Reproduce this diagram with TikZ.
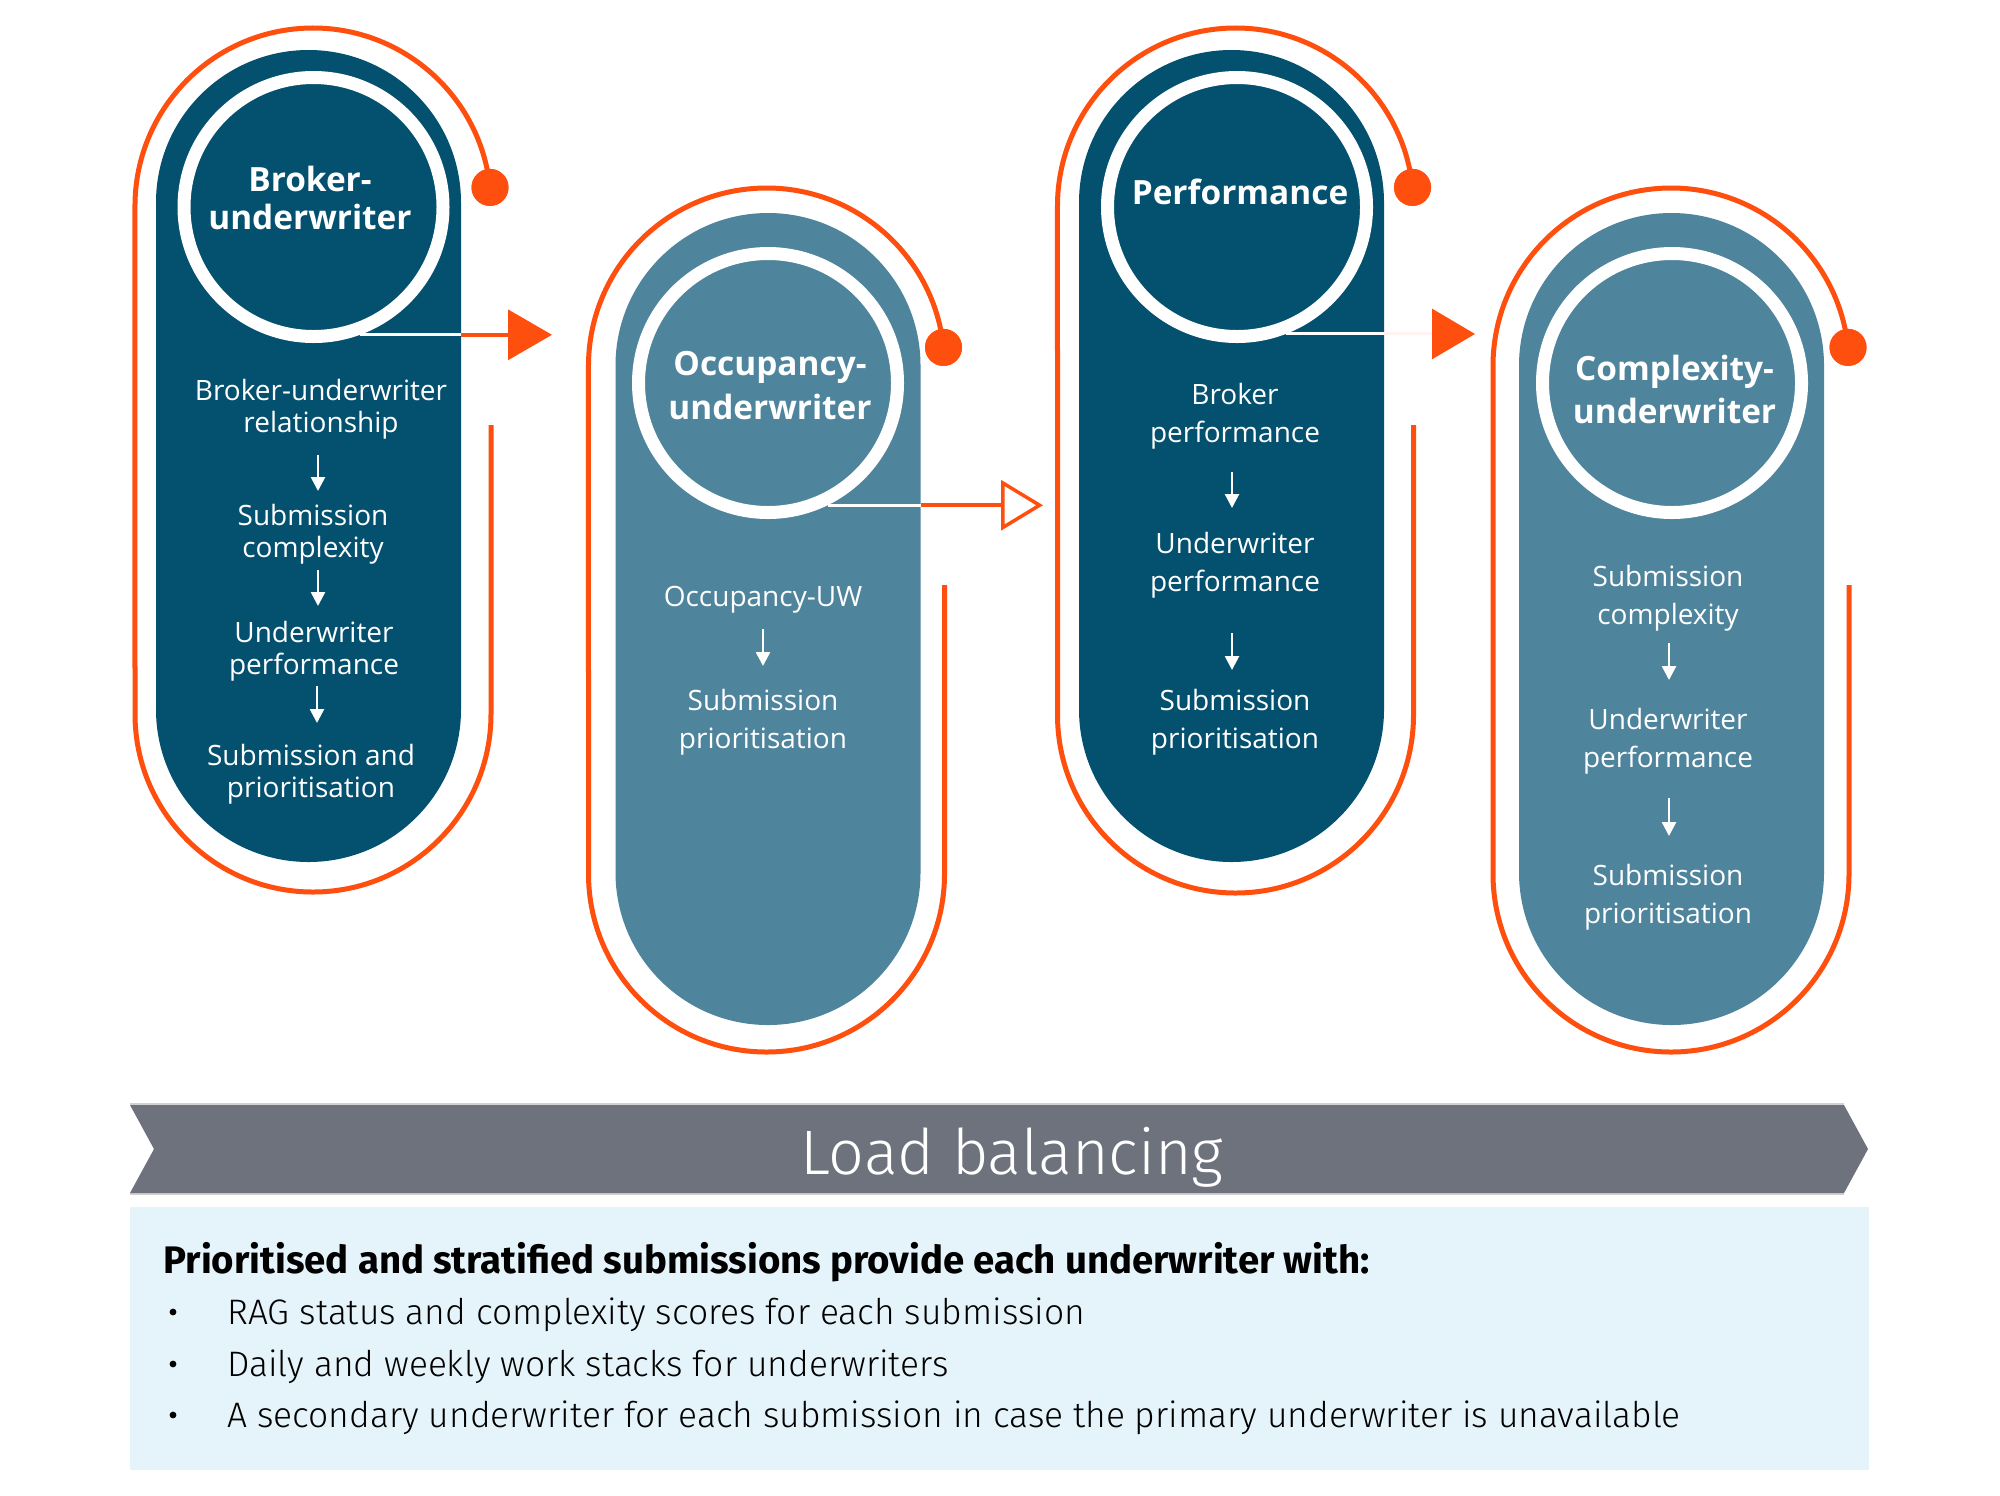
\documentclass[tikz,border=0pt]{standalone}
\usepackage{fontspec}
\setmainfont{Open Sans}
\newfontfamily\firab{Fira Sans}
\newfontfamily\firal{Fira Sans Light}
\usetikzlibrary{arrows.meta,calc}
\definecolor{dkblue}{HTML}{03506F}
\definecolor{ltblue}{HTML}{4E849C}
\definecolor{orng}{HTML}{FF4F0E}
\definecolor{bgray}{HTML}{6E727C}
\definecolor{boxblue}{HTML}{E5F4FA}
\begin{document}
\begin{tikzpicture}[x=0.5pt,y=-0.5pt,
  pillar/.style={rectangle, rounded corners=76.25pt, minimum width=152.5pt, minimum height=406pt, inner sep=0pt, outer sep=0pt},
  ring/.style={circle, draw=white, line width=6.5pt, minimum size=129.5pt, inner sep=0pt},
  ttl/.style={text=white, font=\bfseries\fontsize{16.7}{19}\selectfont, align=center, inner sep=0pt},
  bodyA/.style={text=white, font=\fontsize{14}{16}\selectfont, align=center, inner sep=0pt},
  bodyB/.style={text=white, font=\fontsize{14}{19}\selectfont, align=center, inner sep=0pt},
  oline/.style={draw=orng, line width=2.5pt},
  odot/.style={circle, fill=orng, minimum size=18.5pt, inner sep=0pt},
  wline/.style={draw=white, line width=1.5pt},
  warr/.style={draw=white, line width=1.3pt, -{Triangle[length=7pt,width=7pt]}},
  harr/.style={draw=orng, line width=1.75pt},
  item/.style={anchor=west, inner sep=0pt, font=\firal\fontsize{17.7}{21}\selectfont},
  bul/.style={circle, fill=black, minimum size=3.4pt, inner sep=0pt},
]
\useasboundingbox (0,0) rectangle (2000,1495);
\fill[white] (0,0) rectangle (2000,1495);

% ---------- orange outlines ----------
\node[odot] (d1) at (490,187.4) {};
\draw[oline] (d1.center) arc[start angle=6, end angle=180, radius=89pt] -- (135,714)
  arc[start angle=180, end angle=360, radius=89pt] -- (491,425);
\node[odot] (d2) at (943.5,347.4) {};
\draw[oline] (d2.center) arc[start angle=6, end angle=180, radius=89pt] -- (588.5,874)
  arc[start angle=180, end angle=360, radius=89pt] -- (944.5,585);
\node[odot] (d3) at (1412.5,187.4) {};
\draw[oline] (d3.center) arc[start angle=6, end angle=180, radius=89pt] -- (1057.5,715)
  arc[start angle=180, end angle=360, radius=89pt] -- (1413.5,425);
\node[odot] (d4) at (1848,347.4) {};
\draw[oline] (d4.center) arc[start angle=6, end angle=180, radius=89pt] -- (1493,874)
  arc[start angle=180, end angle=360, radius=89pt] -- (1849,585);
\node[odot] at (d1) {};
\node[odot] at (d2) {};
\node[odot] at (d3) {};
\node[odot] at (d4) {};

% ---------- pillars ----------
\node[pillar, fill=dkblue] (p1) at (308.5,456) {};
\node[pillar, fill=ltblue] (p2) at (768,619) {};
\node[pillar, fill=dkblue] (p3) at (1231.5,456) {};
\node[pillar, fill=ltblue] (p4) at (1671.5,619) {};

% ---------- rings ----------
\node[ring, fill=dkblue] (c1) at (313.5,207) {};
\node[ring, fill=ltblue] (c2) at (768,383) {};
\node[ring, fill=dkblue] (c3) at (1237,207) {};
\node[ring, fill=ltblue] (c4) at (1672,383) {};

% ---------- connectors between stages ----------
\coordinate (a1) at (552,335);
\coordinate (a2) at (1043,505.5);
\coordinate (a3) at (1475,334);
\draw[wline] (c1.-70) -- (c1.-70 -| p1.east);
\draw[harr, -{Triangle[length=22pt,width=25pt]}] (c1.-70 -| p1.east) -- (c1.-70 -| a1);
\draw[wline] (c2.-64) -- (c2.-64 -| p2.east);
\draw[harr, -{Triangle[open,fill=white,length=21pt,width=25pt]}] (c2.-64 -| p2.east) -- (c2.-64 -| a2);
\draw[wline] (c3.-69) -- (c3.-69 -| p3.east);
\draw[draw=orng!6, line width=1.5pt, -{Triangle[length=21.5pt,width=25pt,color=orng]}] (c3.-69 -| p3.east) -- (c3.-69 -| a3);

% ---------- titles ----------
\node[ttl] (t1) at (310,198) {Broker-\\underwriter};
\node[ttl] (t2) at (770,386) {Occupancy-\\[3pt]underwriter};
\node[ttl] (t3) at (1240,192) {Performance};
\node[ttl] (t4) at (1674.5,389) {Complexity-\\[2.5pt]underwriter};

% ---------- pillar 1 text ----------
\node[bodyA] (b11) at (321,409) {Broker-underwriter\\relationship};
\node[bodyA] (b12) at (313,534) {Submission\\complexity};
\node[bodyA] (b13) at (314,651) {Underwriter\\performance};
\node[bodyA] (b14) at (311,774) {Submission and\\prioritisation};
\coordinate (s11) at (318,455); \coordinate (e11) at (318,491);
\coordinate (s12) at (318,570); \coordinate (e12) at (318,606);
\coordinate (s13) at (317,686); \coordinate (e13) at (317,723);
\draw[warr] (s11) -- (e11);
\draw[warr] (s12) -- (e12);
\draw[warr] (s13) -- (e13);

% ---------- pillar 2 text ----------
\node[bodyB] (b21) at (763,600) {Occupancy-UW};
\node[bodyB] (b22) at (763,722) {Submission\\prioritisation};
\coordinate (s21) at (763,629); \coordinate (e21) at (763,666);
\draw[warr] (s21) -- (e21);

% ---------- pillar 3 text ----------
\node[bodyB] (b31) at (1235,416.5) {Broker\\performance};
\node[bodyB] (b32) at (1235,565) {Underwriter\\performance};
\node[bodyB] (b33) at (1235,722) {Submission\\prioritisation};
\coordinate (s31) at (1232,472); \coordinate (e31) at (1232,508);
\coordinate (s32) at (1232,633); \coordinate (e32) at (1232,670);
\draw[warr] (s31) -- (e31);
\draw[warr] (s32) -- (e32);

% ---------- pillar 4 text ----------
\node[bodyB] (b41) at (1668,598.5) {Submission\\complexity};
\node[bodyB] (b42) at (1668,741) {Underwriter\\performance};
\node[bodyB] (b43) at (1668,897) {Submission\\prioritisation};
\coordinate (s41) at (1669,643); \coordinate (e41) at (1669,680);
\coordinate (s42) at (1669,798); \coordinate (e42) at (1669,836);
\draw[warr] (s41) -- (e41);
\draw[warr] (s42) -- (e42);

% ---------- load balancing banner ----------
\draw[black!18, line width=0.75pt] (130,1104) -- (1844,1104);
\draw[black!18, line width=0.75pt] (130,1194) -- (1844,1194);
\fill[bgray] (130,1105) -- (1844,1105) -- (1868,1149) -- (1844,1193) -- (130,1193) -- (154,1149) -- cycle;
\node[text=white, inner sep=0pt, font=\firal\fontsize{31.4}{36}\selectfont] (lb) at (1012,1157) {Load balancing};

% ---------- info box ----------
\fill[boxblue] (130,1207) rectangle (1869,1470);
\node[anchor=west, inner sep=0pt, font=\firab\bfseries\fontsize{19.2}{22}\selectfont] (hd) at (163,1262) {Prioritised and stratified submissions provide each underwriter with:};
\node[bul] (u1) at (173,1312) {};
\node[bul] (u2) at (173,1364) {};
\node[bul] (u3) at (173,1415) {};
\node[item] (i1) at (227,1315) {RAG status and complexity scores for each submission};
\node[item] (i2) at (227,1367) {Daily and weekly work stacks for underwriters};
\node[item] (i3) at (227,1418) {A secondary underwriter for each submission in case the primary underwriter is unavailable};
\end{tikzpicture}
\end{document}
